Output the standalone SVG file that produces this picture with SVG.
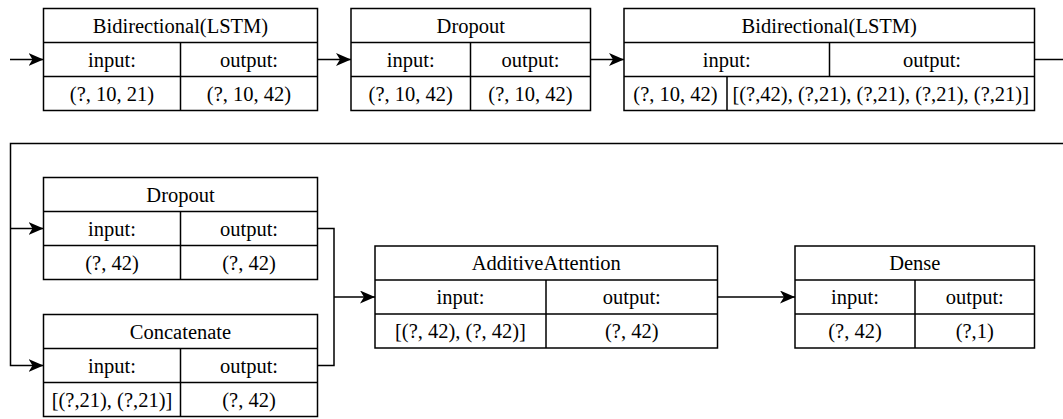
<svg xmlns="http://www.w3.org/2000/svg" width="1063" height="419" viewBox="0 0 1063 419" font-family="Liberation Serif, DejaVu Serif, serif">
  <style>
    .cell { fill: #ffffff; stroke: #000000; stroke-width: 1.5; }
    .sep { stroke: #000000; stroke-width: 1.5; fill: none; }
    .lbl { font-size: 20.5px; fill: #000000; text-anchor: middle; }
    .wire { fill: none; stroke: #000000; stroke-width: 1.5; }
    .wire.arrow { marker-end: url(#head); }
  </style>
  <defs>
    <marker id="head" markerUnits="userSpaceOnUse" viewBox="0 0 15 13" refX="15" refY="6.5" markerWidth="15" markerHeight="13" orient="auto">
      <path d="M0,0 L15,6.5 L0,13 L4,6.5 Z" fill="#000000"/>
    </marker>
  </defs>

  <rect width="1063" height="419" fill="#ffffff"/>

  <!-- connectors -->
  <g id="connectors">
    <path class="wire arrow" d="M10 59.5 H43.5"/>
    <path class="wire arrow" d="M317.5 59.5 H351"/>
    <path class="wire arrow" d="M590.5 59.5 H624"/>
    <path class="wire arrow" d="M1034.5 59.5 H1075 V143.5 H10.5 V365.5 H43.5"/>
    <path class="wire arrow" d="M10.5 228.5 H43.5"/>
    <path class="wire" d="M317.5 228.5 H334 V365.5 H317.5"/>
    <path class="wire arrow" d="M334 297 H375"/>
    <path class="wire arrow" d="M717.5 297 H795"/>
  </g>

  <!-- layer 1: Bidirectional(LSTM) -->
  <g id="bilstm1">
    <rect class="cell" x="43.5" y="8.5" width="274" height="102"/>
    <path class="sep" d="M43.5 42.5 H317.5 M43.5 76.5 H317.5 M180.5 42.5 V110.5"/>
    <text class="lbl" x="180.5" y="32.5">Bidirectional(LSTM)</text>
    <text class="lbl" x="112" y="66.5">input:</text>
    <text class="lbl" x="249" y="66.5">output:</text>
    <text class="lbl" x="112" y="100.5">(?, 10, 21)</text>
    <text class="lbl" x="249" y="100.5">(?, 10, 42)</text>
  </g>

  <!-- layer 2: Dropout -->
  <g id="dropout1">
    <rect class="cell" x="351" y="8.5" width="239.5" height="102"/>
    <path class="sep" d="M351 42.5 H590.5 M351 76.5 H590.5 M470.5 42.5 V110.5"/>
    <text class="lbl" x="470.75" y="32.5">Dropout</text>
    <text class="lbl" x="410.75" y="66.5">input:</text>
    <text class="lbl" x="530.5" y="66.5">output:</text>
    <text class="lbl" x="410.75" y="100.5">(?, 10, 42)</text>
    <text class="lbl" x="530.5" y="100.5">(?, 10, 42)</text>
  </g>

  <!-- layer 3: Bidirectional(LSTM) returning states -->
  <g id="bilstm2">
    <rect class="cell" x="624" y="8.5" width="410.5" height="102"/>
    <path class="sep" d="M624 42.5 H1034.5 M624 76.5 H1034.5 M829.5 42.5 V76.5 M727 76.5 V110.5"/>
    <text class="lbl" x="829.25" y="32.5">Bidirectional(LSTM)</text>
    <text class="lbl" x="726.75" y="66.5">input:</text>
    <text class="lbl" x="932" y="66.5">output:</text>
    <text class="lbl" x="675.5" y="100.5">(?, 10, 42)</text>
    <text class="lbl" x="880.75" y="100.5">[(?,42), (?,21), (?,21), (?,21), (?,21)]</text>
  </g>

  <!-- layer 4: Dropout -->
  <g id="dropout2">
    <rect class="cell" x="43.5" y="177.5" width="274" height="102"/>
    <path class="sep" d="M43.5 211.5 H317.5 M43.5 245.5 H317.5 M180.5 211.5 V279.5"/>
    <text class="lbl" x="180.5" y="201.5">Dropout</text>
    <text class="lbl" x="112" y="235.5">input:</text>
    <text class="lbl" x="249" y="235.5">output:</text>
    <text class="lbl" x="112" y="269.5">(?, 42)</text>
    <text class="lbl" x="249" y="269.5">(?, 42)</text>
  </g>

  <!-- layer 5: Concatenate -->
  <g id="concatenate">
    <rect class="cell" x="43.5" y="314.5" width="274" height="102"/>
    <path class="sep" d="M43.5 348.5 H317.5 M43.5 382.5 H317.5 M180.5 348.5 V416.5"/>
    <text class="lbl" x="180.5" y="338.5">Concatenate</text>
    <text class="lbl" x="112" y="372.5">input:</text>
    <text class="lbl" x="249" y="372.5">output:</text>
    <text class="lbl" x="112" y="406.5">[(?,21), (?,21)]</text>
    <text class="lbl" x="249" y="406.5">(?, 42)</text>
  </g>

  <!-- layer 6: AdditiveAttention -->
  <g id="attention">
    <rect class="cell" x="375" y="246" width="342.5" height="102"/>
    <path class="sep" d="M375 280 H717.5 M375 314 H717.5 M546 280 V348"/>
    <text class="lbl" x="546.25" y="270">AdditiveAttention</text>
    <text class="lbl" x="460.5" y="304">input:</text>
    <text class="lbl" x="631.75" y="304">output:</text>
    <text class="lbl" x="460.5" y="338">[(?, 42), (?, 42)]</text>
    <text class="lbl" x="631.75" y="338">(?, 42)</text>
  </g>

  <!-- layer 7: Dense -->
  <g id="dense">
    <rect class="cell" x="795" y="246" width="239.5" height="102"/>
    <path class="sep" d="M795 280 H1034.5 M795 314 H1034.5 M915 280 V348"/>
    <text class="lbl" x="914.75" y="270">Dense</text>
    <text class="lbl" x="855" y="304">input:</text>
    <text class="lbl" x="974.75" y="304">output:</text>
    <text class="lbl" x="855" y="338">(?, 42)</text>
    <text class="lbl" x="974.75" y="338">(?,1)</text>
  </g>
</svg>
